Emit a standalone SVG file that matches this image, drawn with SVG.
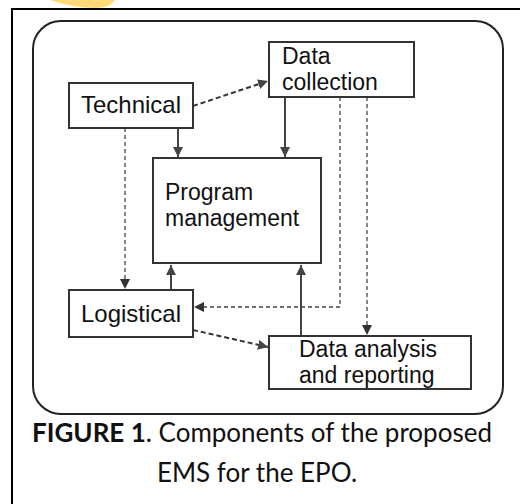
<svg xmlns="http://www.w3.org/2000/svg" width="520" height="504" viewBox="0 0 520 504">
<defs>
<style>
.box{fill:#fff;stroke:#333;stroke-width:2}
.t{font-family:"Liberation Sans",Arial,sans-serif;font-size:23px;fill:#111}
.t1{font-family:"Liberation Sans",Arial,sans-serif;font-size:24px;fill:#111}
.solid{stroke:#444;stroke-width:2;fill:none}
.dash1{stroke:#333;stroke-width:2;fill:none;stroke-dasharray:5 3}
.dash2{stroke:#444;stroke-width:1.3;fill:none;stroke-dasharray:4 3}
.cap{font-family:Lato,"Open Sans",sans-serif;font-size:26px;fill:#111}
</style>
<marker id="ah" viewBox="0 0 10 10" refX="10" refY="5" markerWidth="5" markerHeight="5" orient="auto" markerUnits="strokeWidth">
<path d="M0,0 L10,5 L0,10 Z" fill="#444"/>
</marker>
<marker id="ahs" viewBox="0 0 10 10" refX="10" refY="5" markerWidth="8" markerHeight="8" orient="auto" markerUnits="strokeWidth">
<path d="M0,0 L10,5 L0,10 Z" fill="#333"/>
</marker>
</defs>
<rect width="520" height="504" fill="#fff"/>
<path d="M50,0 L115,0 Q110,8 95,8 Q75,8 50,0 Z" fill="#FDD97A"/>
<rect x="12" y="9" width="520" height="510" fill="none" stroke="#000" stroke-width="2"/>
<rect x="33" y="21" width="470" height="393" rx="28" ry="28" fill="none" stroke="#222" stroke-width="2"/>
<g id="connectors">
<line class="dash1" x1="193" y1="106" x2="268" y2="81" marker-end="url(#ah)"/>
<line class="solid" x1="178" y1="128" x2="178" y2="157" marker-end="url(#ah)"/>
<line class="solid" x1="285" y1="97" x2="285" y2="157" marker-end="url(#ah)"/>
<line class="dash2" x1="125" y1="128" x2="125" y2="289" marker-end="url(#ahs)"/>
<line class="solid" x1="171" y1="290" x2="171" y2="265" marker-end="url(#ah)"/>
<polyline class="dash2" points="340,97 340,307 194,307" marker-end="url(#ahs)"/>
<line class="dash2" x1="367" y1="97" x2="367" y2="335" marker-end="url(#ahs)"/>
<line class="solid" x1="301" y1="336" x2="301" y2="265" marker-end="url(#ah)"/>
<line class="dash1" x1="193" y1="330" x2="268" y2="347" marker-end="url(#ah)"/>
</g>
<g id="technical">
<rect class="box" x="69" y="83" width="124" height="45"/>
<text class="t1" x="131" y="113" text-anchor="middle">Technical</text>
</g>
<g id="data-collection">
<rect class="box" x="269" y="42" width="145" height="55"/>
<text class="t" x="282" y="64">Data</text>
<text class="t" x="282" y="90">collection</text>
</g>
<g id="program-management">
<rect class="box" x="153" y="158" width="168" height="105"/>
<text class="t" x="165" y="200">Program</text>
<text class="t" x="165" y="226">management</text>
</g>
<g id="logistical">
<rect class="box" x="69" y="290" width="124" height="47"/>
<text class="t1" x="131" y="322" text-anchor="middle">Logistical</text>
</g>
<g id="data-analysis">
<rect class="box" x="269" y="336" width="202" height="53"/>
<text class="t" x="299" y="357">Data analysis</text>
<text class="t" x="299" y="383">and reporting</text>
</g>
<g id="caption">
<text class="cap" x="262" y="442" text-anchor="middle"><tspan font-weight="bold">FIGURE 1</tspan>. Components of the proposed</text>
<text class="cap" x="257" y="482" text-anchor="middle">EMS for the EPO.</text>
</g>
</svg>
